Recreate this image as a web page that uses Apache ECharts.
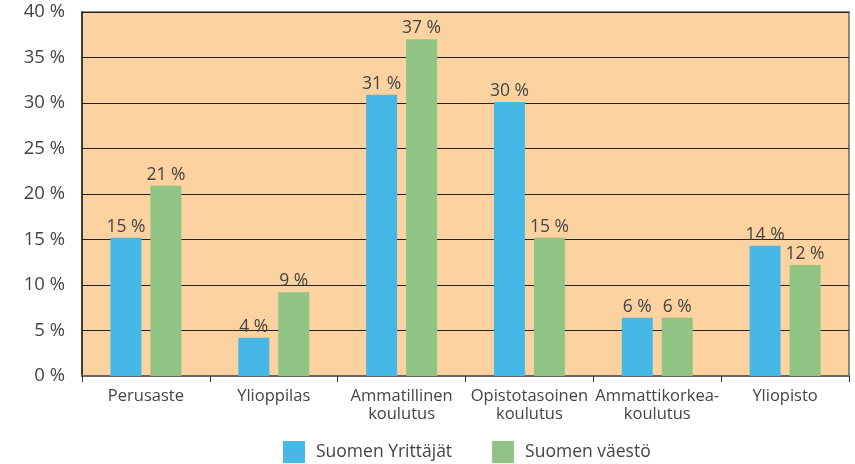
<!DOCTYPE html>
<html><head><meta charset="utf-8">
<script src="https://cdn.jsdelivr.net/npm/echarts@6/dist/echarts.min.js"></script>
<style>html,body{margin:0;padding:0;background:#fff}#c{width:855px;height:464px}</style>
</head><body><div id="c"></div>
<script>
const categories = ['Perusaste', 'Ylioppilas', 'Ammatillinen\nkoulutus', 'Opistotasoinen\nkoulutus', 'Ammattikorkea-\nkoulutus', 'Yliopisto'];
const seriesNames = ['Suomen Yrittäjät', 'Suomen väestö'];
const yrittajat = [15.2, 4.2, 30.9, 30.1, 6.4, 14.3];
const vaesto = [20.9, 9.2, 37.0, 15.2, 6.4, 12.2];
const yTicks = [0, 5, 10, 15, 20, 25, 30, 35, 40];

const font = 'Open Sans';
const chart = echarts.init(document.getElementById('c'), null, {renderer: 'canvas'});
const lbl = {show: true, position: 'top', distance: 2, color: '#444', fontFamily: font, fontSize: 17.5,
  formatter: p => Math.round(p.value) + ' %'};
chart.setOption({
  animation: false,
  backgroundColor: '#fff',
  grid: {left: 82, right: 6, top: 12, bottom: 88, show: true, backgroundColor: '#FCD3A0', borderColor: '#666', borderWidth: 1.5},
  legend: {top: 441, left: 283, itemWidth: 22, itemHeight: 22, itemGap: 40, icon: 'rect', padding: 0,
    textStyle: {color: '#444', fontFamily: font, fontSize: 17.5, padding: [0, 0, 0, 6]}, data: seriesNames},
  xAxis: {type: 'category', data: categories,
    axisLine: {lineStyle: {color: '#666', width: 2}},
    axisTick: {show: true, length: 6, lineStyle: {color: '#333', width: 1}},
    axisLabel: {color: '#444', fontFamily: font, fontSize: 16.5, lineHeight: 18, margin: 11, interval: 0}},
  yAxis: {type: 'value', min: yTicks[0], max: yTicks[yTicks.length-1], interval: 5,
    axisLine: {show: true, lineStyle: {color: '#222', width: 1.5}},
    axisTick: {show: false},
    splitLine: {lineStyle: {color: '#222', width: 1.2}},
    axisLabel: {color: '#444', fontFamily: font, fontSize: 18.5, margin: 17, formatter: v => v + ' %'}},
  series: [
    {name: seriesNames[0], type: 'bar', data: yrittajat, barWidth: 31, barGap: '29%', itemStyle: {color: '#45B8E6'}, label: lbl},
    {name: seriesNames[1], type: 'bar', data: vaesto, barWidth: 31, itemStyle: {color: '#8FC485'}, label: lbl}
  ]
});
</script></body></html>
